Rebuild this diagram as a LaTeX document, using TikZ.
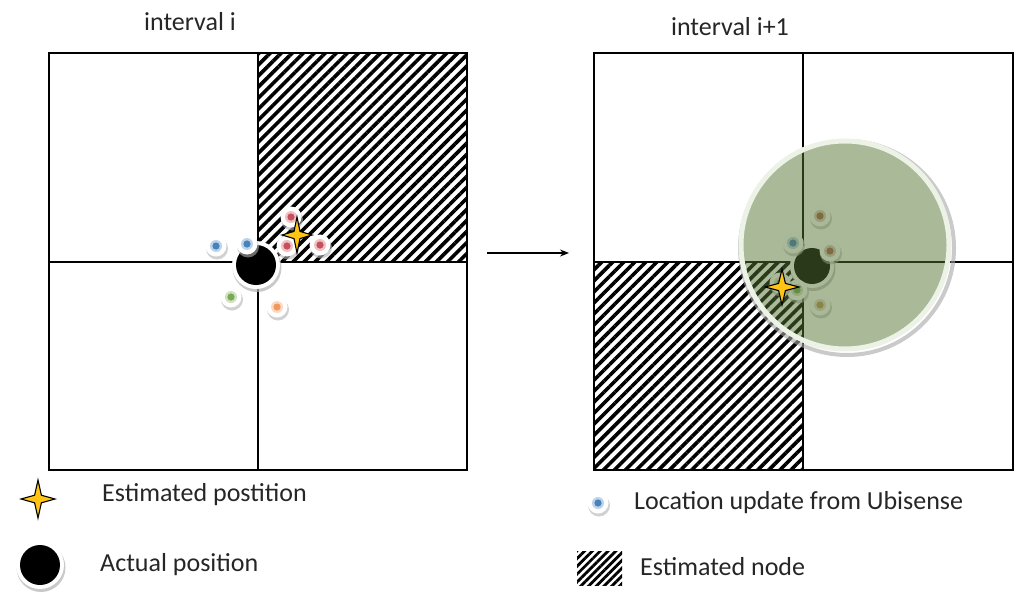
\documentclass[tikz,border=0pt]{standalone}
\usepackage{fontspec}
\setmainfont{Carlito}
\usetikzlibrary{patterns.meta,arrows.meta}
\definecolor{starY}{RGB}{255,196,20}
\definecolor{dBlue}{RGB}{70,130,190}
\definecolor{dRed}{RGB}{200,80,90}
\definecolor{dGreen}{RGB}{120,170,80}
\definecolor{dOrange}{RGB}{245,150,90}
\definecolor{dBrown}{RGB}{170,100,80}
\definecolor{dTan}{RGB}{190,150,100}
\definecolor{zone}{RGB}{85,115,50}
\definecolor{ring}{RGB}{236,243,230}
\tikzset{
  grid/.style={line width=1.4pt,draw=black},
  hatch/.style={pattern={Lines[angle=45,distance=7.8pt,line width=3.6pt]}},
  hatchsmall/.style={pattern={Lines[angle=45,distance=5.5pt,line width=2.8pt]}},
  lbl/.style={font=\fontsize{26}{30}\selectfont,anchor=west,inner sep=0pt,text=black!85},
  ttl/.style={font=\fontsize{26}{30}\selectfont,inner sep=0pt,text=black!85},
}
\newcommand{\mydot}[4]{% x,y,color,name
  \fill[black!30,opacity=0.6] (#1+1,#2+2.5) circle (11);
  \fill[white] (#1,#2) circle (10.5);
  \fill[#3!35] (#1,#2) circle (6);
  \fill[#3] (#1,#2) circle (3.6);
  \coordinate (#4) at (#1,#2);
}
\newcommand{\mystar}[4]{% x,y,halfwidth,halfheight
  \filldraw[fill=starY,draw=black,line width=1.1pt]
   (#1,#2-#4) -- (#1+0.2*#3,#2-0.2*#4) -- (#1+#3,#2) -- (#1+0.2*#3,#2+0.2*#4)
   -- (#1,#2+#4) -- (#1-0.2*#3,#2+0.2*#4) -- (#1-#3,#2) -- (#1-0.2*#3,#2-0.2*#4) -- cycle;
}
\newcommand{\actual}[4]{% x,y,r,name
  \fill[black!30,opacity=0.7] (#1+1,#2+2.5) circle (#3+4.5);
  \fill[white] (#1,#2) circle (#3+4);
  \fill[black] (#1,#2) circle (#3);
  \coordinate (#4) at (#1,#2);
}
\begin{document}
\begin{tikzpicture}[x=1pt,y=-1pt]
\useasboundingbox (0,0) rectangle (1024,599);
% ---- left panel
\node[ttl] (t1) at (190,22) {interval i};
\fill[hatch] (258,53) rectangle (467,262);
\draw[grid] (49,53) rectangle (467,470);
\draw[grid] (258,53) -- (258,470);
\draw[grid] (49,262) -- (467,262);
\actual{256}{265}{20}{a1}
\mydot{216}{246}{dBlue}{p1}
\mydot{247}{244}{dBlue}{p2}
\mydot{291}{217}{dRed}{p3}
\mydot{320}{245}{dRed}{p4}
\mydot{287}{246}{dRed}{p5}
\mydot{231}{297}{dGreen}{p6}
\mydot{277}{307}{dOrange}{p7}
\mystar{297}{235}{15}{18}
% ---- arrow
\coordinate (ar1) at (487,253);
\coordinate (ar2) at (569,253);
\draw[line width=1.2pt,-{Stealth[length=9pt,width=7pt]}] (ar1) -- (ar2);
% ---- right panel
\node[ttl] (t2) at (730,27) {interval i+1};
\fill[hatch] (594,262) rectangle (803,470);
\draw[grid] (594,53) rectangle (1013,470);
\draw[grid] (803,53) -- (803,470);
\draw[grid] (594,262) -- (1013,262);
\actual{812}{266}{18}{a2}
\mydot{793}{243}{dBlue}{q1}
\mydot{820}{216}{dBrown}{q2}
\mydot{830}{251}{dBrown}{q3}
\mydot{820}{305}{dTan}{q4}
\mydot{797}{290}{dGreen}{q5}
\mydot{780}{283}{dGreen}{q6}
\draw[black!35,opacity=0.6,line width=4pt] (847,248) circle (107);
\fill[zone,opacity=0.5] (845,245) circle (104);
\draw[ring,line width=5pt] (845,245) circle (104);
\mystar{782}{287}{17}{18}
% ---- legend
\mystar{38}{499}{17}{19}
\node[lbl] (l1) at (102,495) {Estimated postition};
\actual{40}{565}{20}{la}
\node[lbl] (l2) at (100,565) {Actual position};
\mydot{598}{503}{dBlue}{ld}
\node[lbl] (l3) at (634,503) {Location update from Ubisense};
\fill[hatchsmall] (577,551) rectangle (622,585);
\node[lbl] (l4) at (640,567) {Estimated node};
\end{tikzpicture}
\end{document}
